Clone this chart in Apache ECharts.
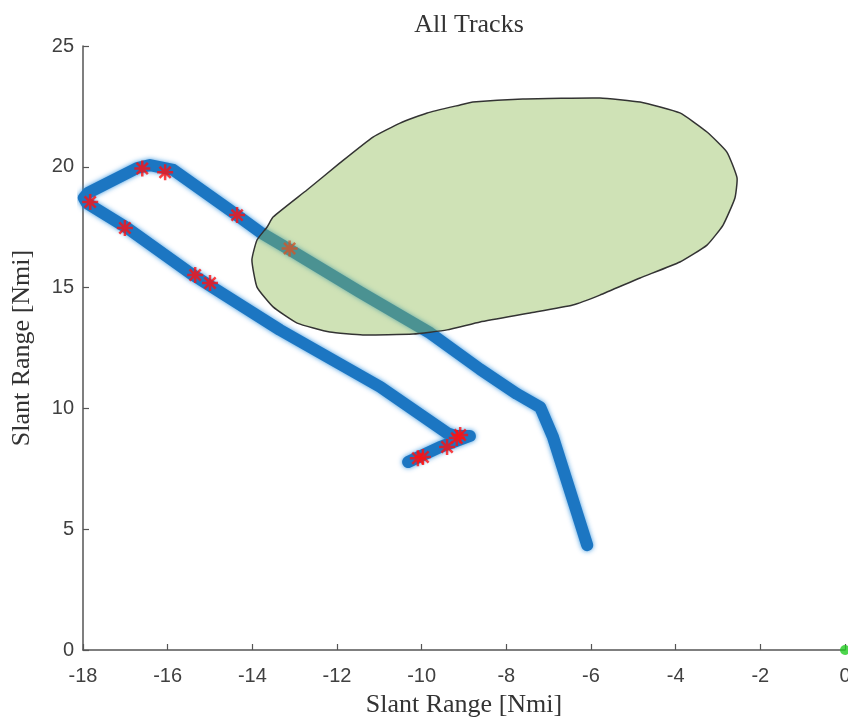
<!DOCTYPE html>
<html>
<head>
<meta charset="utf-8">
<script src="https://cdn.jsdelivr.net/npm/echarts@6/dist/echarts.min.js"></script>
<style>html,body{margin:0;padding:0;background:#fff}#c{width:848px;height:722px}</style>
</head>
<body>
<div id="c"></div>
<script>
// Track (blue) waypoints
const trackX = [-6.09, -6.33, -6.90, -7.20, -7.75, -8.62, -9.80, -11.46, -13.11, -13.82, -14.53, -15.87, -16.42, -16.72, -17.88, -17.98, -17.91, -16.96, -15.40, -13.35, -10.98, -9.40, -9.21, -8.86, -9.57, -10.32];
const trackY = [4.34, 5.67, 8.82, 10.05, 10.60, 11.62, 13.12, 14.82, 16.56, 17.30, 18.21, 19.87, 20.07, 19.95, 18.92, 18.71, 18.50, 17.47, 15.52, 13.25, 10.89, 8.98, 8.86, 8.86, 8.40, 7.78];

// Red markers
const redX = [-16.60, -16.06, -17.83, -17.01, -15.35, -15.00, -14.36, -13.12, -9.17, -9.09, -9.40, -9.97, -10.09];
const redY = [19.93, 19.77, 18.54, 17.47, 15.52, 15.19, 18.00, 16.62, 8.77, 8.90, 8.40, 7.99, 7.94];

// Green region outline
const polyX = [-14.01, -13.89, -13.65, -13.51, -12.71, -11.93, -11.15, -10.51, -9.87, -9.09, -8.79, -7.61, -5.79, -4.84, -3.90, -3.26, -2.79, -2.55, -2.60, -2.88, -3.26, -3.90, -4.84, -5.79, -6.43, -7.44, -8.62, -9.40, -10.20, -11.39, -12.17, -12.94, -13.51, -13.89];
const polyY = [16.14, 16.97, 17.51, 17.92, 19.04, 20.16, 21.23, 21.81, 22.23, 22.56, 22.68, 22.81, 22.85, 22.68, 22.23, 21.44, 20.61, 19.54, 18.71, 17.59, 16.76, 16.06, 15.40, 14.69, 14.28, 13.95, 13.58, 13.25, 13.08, 13.04, 13.16, 13.53, 14.20, 15.02];

// Origin marker
const originX = [0];
const originY = [0];

const xTicks = {min: -18, max: 0, step: 2};
const yTicks = {min: 0, max: 25, step: 5};

const trackData = trackX.map((x, i) => [x, trackY[i]]);
const redData = redX.map((x, i) => [x, redY[i]]);
const polyData = polyX.map((x, i) => [x, polyY[i]]);
const originData = originX.map((x, i) => [x, originY[i]]);

const asterisk = 'path://M5 0 L5 10 M0 5 L10 5 M1.5 1.5 L8.5 8.5 M1.5 8.5 L8.5 1.5';
const axisColor = '#555555';
const labelFont = {color: '#404040', fontSize: 20, fontFamily: 'Liberation Sans Narrow, Liberation Sans, Arial, sans-serif'};
const nameFont = {color: '#333333', fontSize: 26, fontFamily: 'Liberation Serif, Times New Roman, serif'};

const chart = echarts.init(document.getElementById('c'), null, {renderer: 'canvas'});
chart.setOption({
  animation: false,
  backgroundColor: '#ffffff',
  title: {
    text: 'All Tracks', left: 464, top: 7, textAlign: 'center',
    textStyle: {color: '#333333', fontSize: 26, fontWeight: 'normal', fontFamily: 'Liberation Serif, Times New Roman, serif'}
  },
  grid: {left: 83, right: 3, top: 46, bottom: 72, containLabel: false, outerBoundsMode: 'none'},
  xAxis: {
    type: 'value', min: xTicks.min, max: xTicks.max, interval: xTicks.step,
    name: 'Slant Range [Nmi]', nameLocation: 'middle', nameGap: 42, nameTextStyle: nameFont,
    axisLine: {show: true, onZero: false, lineStyle: {color: axisColor, width: 1.5}},
    axisTick: {show: true, inside: true, length: 6, lineStyle: {color: axisColor, width: 1.2}},
    axisLabel: Object.assign({margin: 16, hideOverlap: false}, labelFont),
    splitLine: {show: false}
  },
  yAxis: {
    type: 'value', min: yTicks.min, max: yTicks.max, interval: yTicks.step,
    name: 'Slant Range [Nmi]', nameLocation: 'middle', nameGap: 48, nameTextStyle: nameFont,
    axisLine: {show: true, onZero: false, lineStyle: {color: axisColor, width: 1.5}},
    axisTick: {show: true, inside: true, length: 6, lineStyle: {color: axisColor, width: 1.2}},
    axisLabel: Object.assign({margin: 9}, labelFont),
    splitLine: {show: false}
  },
  series: [
    {
      type: 'line', data: trackData, z: 2, symbol: 'none', smooth: false,
      lineStyle: {color: '#1c76c2', width: 12, cap: 'round', join: 'round', shadowBlur: 5, shadowColor: 'rgba(40,140,220,0.9)'}
    },
    {
      type: 'scatter', data: redData, z: 3, symbol: asterisk, symbolSize: 16,
      itemStyle: {color: 'rgba(0,0,0,0)', borderColor: '#ff1010', borderWidth: 2.5}
    },
    {
      type: 'custom', z: 5, data: [0],
      renderItem: function (params, api) {
        const pts = polyData.map(p => api.coord(p));
        return {
          type: 'polygon', shape: {points: pts, smooth: 0.15},
          style: {fill: 'rgba(140,185,80,0.42)', stroke: '#333333', lineWidth: 1.5}
        };
      }
    },
    {
      type: 'scatter', data: originData, z: 6, symbol: 'circle', symbolSize: 10,
      itemStyle: {color: '#22cc22'}
    }
  ]
});
</script>
</body>
</html>
